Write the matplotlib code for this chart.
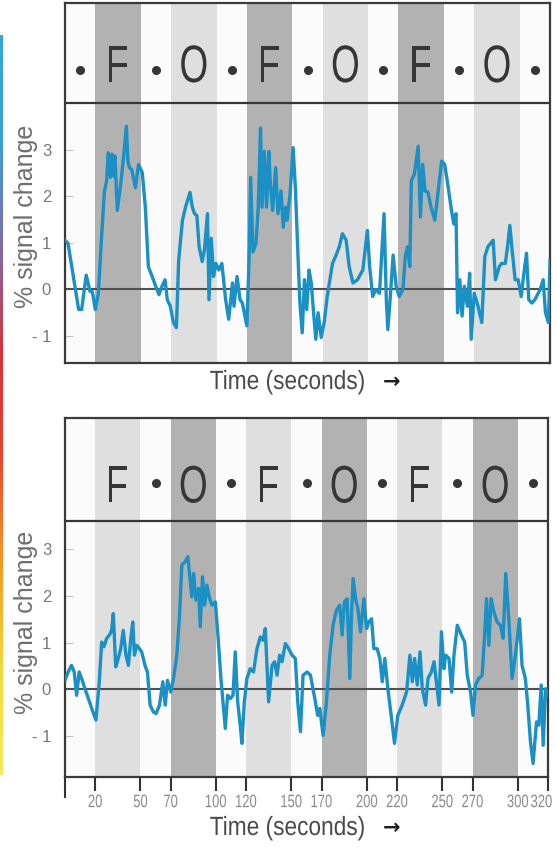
import numpy as np
import matplotlib.pyplot as plt
import matplotlib.transforms as mtransforms
from matplotlib.colors import LinearSegmentedColormap
from matplotlib.textpath import TextPath
from matplotlib.patches import PathPatch
from matplotlib.font_manager import FontProperties

plt.rcParams['font.family'] = ['Liberation Sans', 'DejaVu Sans']

# stimulus blocks (seconds)
block_starts = [20, 70, 120, 170, 220, 270]
block_len = 30
rest_centers = [10, 60, 110, 160, 210, 260, 310]
top_labels = ['F', 'O', 'F', 'O', 'F', 'O']
bot_labels = ['F', 'O', 'F', 'O', 'F', 'O']
xtick_vals = [20, 50, 70, 100, 120, 150, 170, 200, 220, 250, 270, 300, 320]
ytick_vals = [-1, 0, 1, 2, 3]
ytick_labels = ['- 1', '0', '1', '2', '3']

# upper run: F blocks dark
top_time = [0, 2, 9, 11, 14, 16.5, 18, 20, 22, 24,
            26, 27.5, 28.5, 30, 31, 32, 33, 34.5, 36.5, 38.5,
            40.5, 41.5, 42.5, 44, 46.5, 48.5, 51, 53, 55, 57.5,
            59.5, 62, 64, 66, 67.5, 69.5, 71.5, 73.5, 75, 77.5,
            79.5, 82.5, 84, 85.5, 87, 88.5, 90.5, 92, 94, 95,
            96.5, 98, 99.5, 101.5, 103.5, 106, 108, 110.5, 111.5, 113.5,
            115.5, 117, 120, 121.5, 122.5, 124, 126, 127.5, 129, 130,
            131.5, 133, 134.5, 135.5, 137, 139, 140.5, 142.5, 144, 145.5,
            146.5, 148.5, 150.5, 152, 154, 155, 156.5, 158, 159.5, 161,
            162.5, 164, 165.5, 167, 169, 171, 173, 176.5, 178.5, 181,
            183, 185.5, 187.5, 190, 193, 196.5, 199.5, 201, 203, 205,
            207.5, 210.5, 212, 213, 214.5, 216.5, 218.5, 220.5, 223, 224.5,
            226, 227.5, 228.5, 230.5, 233, 234.5, 236, 237.5, 239.5, 241.5,
            244, 246, 248.5, 250.5, 252.5, 255, 256.5, 258, 259, 260.5,
            262, 263.5, 265.5, 267, 268, 270, 272.5, 275, 277, 279,
            282.5, 284, 286.5, 288, 290.5, 292, 293.5, 295, 297, 299,
            301, 302.5, 304.5, 306, 308, 310, 313.5, 315.5, 317, 319,
            320]
top_signal = [1.05, 0.98, -0.44, -0.44, 0.3, -0.05, -0.05, -0.44, -0.1, 1.05,
              2.1, 2.33, 2.93, 2.4, 2.9, 2.43, 2.86, 1.69, 2.18, 2.79,
              3.5, 2.75, 2.61, 2.57, 2.18, 2.68, 2.5, 1.76, 0.48, 0.27,
              0.09, -0.12, 0.06, 0.2, -0.23, -0.37, -0.72, -0.83, 0.62, 1.48,
              1.76, 2.08, 1.76, 1.62, 1.58, 0.91, 0.59, 0.84, 1.62, -0.23,
              1.09, 0.27, 0.55, 0.41, 0.55, -0.23, -0.65, 0.13, -0.37, 0.27,
              -0.23, -0.3, -0.79, 0.7, 2.4, 0.8, 0.98, 1.76, 3.46, 1.76,
              2.96, 1.76, 2.96, 2.26, 1.69, 2.61, 1.62, 2.11, 1.33, 1.76,
              1.48, 2.04, 3.04, 2.18, 0.48, -0.3, -0.94, 0.2, -0.44, 0.41,
              0.13, -0.51, -1.08, -0.51, -1.04, -0.72, -0.16, 0.55, 0.7, 0.91,
              1.19, 1.05, 0.48, 0.13, 0.2, 0.41, 1.26, 0.48, -0.16, -0.01,
              -0.09, 1.62, -0.23, -0.87, -0.23, 0.73, 0.06, -0.16, -0.01, 0.7,
              0.91, 0.48, 2.33, 2.47, 3.07, 1.55, 2.68, 2.11, 2.08, 1.76,
              1.48, 2.04, 2.75, 2.68, 2.26, 1.69, 1.4, 1.62, -0.51, 0.2,
              -0.58, 0.06, -0.37, 0.34, -1.08, -0.09, -0.37, -0.72, 0.7, 0.91,
              1.05, 0.2, 0.48, 0.55, 0.55, 0.91, 1.37, 0.84, 0.2, 0.2,
              -0.16, 0.27, 0.77, -0.23, -0.3, -0.23, -0.01, 0.2, -0.51, -0.72,
              0.62]

# lower run: O blocks dark
bot_time = [0, 2.1, 4.3, 6.1, 7.7, 9.4, 11, 13.2, 15.5, 17.7,
            20.5, 22.7, 24.3, 25.8, 27.6, 29.4, 30.9, 32, 33.6, 35.3,
            36.9, 38.6, 40.4, 42, 43.6, 44.9, 46, 47.5, 49.3, 50.8,
            53, 54.6, 56.4, 58.6, 60.4, 62.6, 64.8, 66.4, 67.9, 70.1,
            71.9, 74.1, 75.9, 77.4, 79.6, 81.4, 83, 84, 85.2, 86.7,
            88.5, 89.6, 91.1, 92.5, 94, 95.8, 97.4, 99.6, 101.3, 103.3,
            106.2, 107.7, 109.5, 111.3, 112.8, 114.4, 116.1, 117.2, 118.8, 120.5,
            122.7, 124.9, 127.2, 129.4, 131.2, 132.7, 134.9, 137.2, 138.9, 140.5,
            142.2, 143.8, 146, 148.2, 150.4, 152.6, 154.2, 156, 157.7, 160.4,
            162.6, 164.3, 165.9, 167.4, 168.8, 171, 173.2, 175.4, 177.6, 179.8,
            182, 183.6, 185.1, 186.9, 188.7, 189.8, 190.9, 192.5, 194, 195.8,
            198, 199.8, 201.3, 203.1, 204.6, 206.8, 208.6, 210.2, 211.9, 213.9,
            216.1, 218.3, 220.5, 223.4, 226.3, 228.5, 230.1, 231.6, 233.4, 235.2,
            236.7, 238.9, 240.5, 242.7, 244.5, 246.3, 247.8, 249.4, 251.1, 252.2,
            254.4, 256.2, 257.7, 259.9, 262.6, 264.8, 266.5, 268.7, 270.3, 272,
            274.2, 276.4, 278, 279.3, 280.8, 282.3, 284.1, 286.3, 288.5, 290.3,
            292, 294, 296.2, 298.4, 301.1, 302.8, 305, 306.6, 308.4, 310.1,
            312.4, 313.9, 315.5, 316.8, 318.4, 320]
bot_signal = [0.19, 0.37, 0.51, 0.37, -0.13, 0.37, 0.23, 0.01, -0.2, -0.41,
              -0.66, 0.16, 1.01, 0.91, 1.09, 1.16, 1.26, 1.62, 0.48, 0.66,
              0.87, 1.26, 0.73, 0.51, 1.09, 1.44, 0.73, 0.94, 0.87, 0.8,
              0.51, 0.37, -0.34, -0.49, -0.52, -0.34, 0.16, -0.34, 0.19, -0.06,
              0.23, 0.73, 1.59, 2.66, 2.73, 2.84, 2.3, 1.98, 2.48, 1.91,
              2.16, 1.34, 2.41, 1.8, 2.23, 1.94, 1.8, 1.87, 1.16, 0.23,
              -0.84, -0.13, -0.2, -0.13, 0.8, -0.27, -0.77, -1.16, -0.27, 0.23,
              0.44, 0.37, 0.87, 1.12, 1.05, 1.3, -0.27, 0.51, 0.59, 0.3,
              0.73, 0.59, 0.98, 0.87, 0.73, 0.66, -0.27, -0.91, 0.3, 0.37,
              0.3, 0.01, -0.27, -0.56, -0.41, -0.99, -0.27, 0.73, 1.37, 1.69,
              1.8, 1.16, 1.87, 1.94, 0.23, 1.59, 2.37, 1.94, 1.73, 1.23,
              1.94, 1.3, 1.44, 1.51, 0.87, 0.87, 0.66, 0.16, 0.66, 0.01,
              -0.56, -1.16, -0.56, -0.34, -0.06, 0.73, 0.16, 0.66, 0.09, 0.8,
              0.01, -0.34, 0.23, 0.37, 0.59, 0.09, -0.34, 1.23, 0.44, 0.73,
              0.66, -0.06, 0.73, 1.37, 1.16, 1.01, 0.3, -0.06, -0.56, 0.09,
              0.23, 0.3, 1.16, 1.94, 0.94, 1.94, 1.66, 1.44, 1.37, 1.09,
              2.48, 1.51, 0.23, 0.73, 1.51, 0.51, 0.23, -0.34, -1.13, -1.59,
              -0.7, -0.77, 0.09, -1.2, 0.01, -0.13]

DARK = '#b2b2b2'
LIGHT = '#dfdfdf'
BLUE = '#1a90c4'
INK = '#363636'

fig = plt.figure(figsize=(5.57, 8.5), dpi=100)


# text squeezed sideways (the original uses a condensed face)
def narrow_text(ax, x, y, s, size, squeeze, color, trans=None, align='center'):
    tp = TextPath((0, 0), s, prop=FontProperties(family='Liberation Sans', size=size))
    bb = tp.get_extents()
    x0 = {'center': bb.x0 + bb.width / 2, 'right': bb.x1, 'left': bb.x0}[align]
    k = fig.dpi / 72
    tr = (mtransforms.Affine2D().translate(-x0, 0).scale(squeeze * k, k)
          + mtransforms.ScaledTranslation(x, y, trans if trans is not None else ax.transData))
    patch = PathPatch(tp, transform=tr, facecolor=color, edgecolor='none', zorder=3)
    patch.set_clip_on(False)
    if ax is None:
        fig.add_artist(patch)
    else:
        ax.add_artist(patch)


def panel(rect, ylim, split, t, v, labels, dark_label, dots, letter_y, dot_y):
    ax = fig.add_axes(rect)
    ax.set_xlim(0, 320)
    ax.set_ylim(*ylim)
    ax.set_facecolor('#fbfbfb')
    for s, lab in zip(block_starts, labels):
        ax.axvspan(s, s + block_len, color=DARK if lab == dark_label else LIGHT,
                   lw=0, zorder=0)
        narrow_text(ax, s + block_len / 2, letter_y, lab, 38, 0.7, INK)
    ax.plot(dots, [dot_y] * len(dots), 'o', ms=5.5, color=INK, zorder=3)
    ax.axhline(split, color=INK, lw=1.6, zorder=2)
    ax.axhline(0, color='#505050', lw=1.5, zorder=2)
    ax.plot(t, v, color=BLUE, lw=2.4, zorder=4)
    for sp in ax.spines.values():
        sp.set_color('#3a3a3a')
        sp.set_linewidth(1.6)
    ax.set_yticks(ytick_vals, ytick_labels)
    ax.tick_params(axis='y', direction='in', length=6, width=0.8,
                   color='#c4c4c4', labelcolor='#777777', labelsize=12, pad=10)
    return ax


ax1 = panel([65 / 557, 1 - 363 / 850, 485 / 557, 360 / 850], (-1.59, 6.15), 4.0,
            top_time, top_signal, top_labels, 'F', rest_centers, 4.45, 4.71)
ax1.set_xticks([])

ax2 = panel([65 / 557, 1 - 777 / 850, 483 / 557, 359 / 850], (-1.88, 5.81), 3.6,
            bot_time, bot_signal, bot_labels, 'O', rest_centers[1:], 4.0, 4.41)
ax2.set_xticks(xtick_vals, [''] * len(xtick_vals))
ax2.set_xticks([0], [''], minor=True)
ax2.tick_params(axis='x', which='major', direction='out', length=10, width=1.5,
                color='#333333')
ax2.tick_params(axis='x', which='minor', direction='out', length=15, width=1.5,
                color='#333333')
for i, xv in enumerate(xtick_vals):
    last = i == len(xtick_vals) - 1
    narrow_text(ax2, xv + (2.5 if last else 0), -0.084, str(xv), 13, 0.72, '#8a8a8a',
                trans=ax2.get_xaxis_transform(), align='right' if last else 'center')

# axis titles
for yc in [1 - 216 / 850, 1 - 622 / 850]:
    fig.text(0.047, yc, '% signal change', rotation=90, ha='center', va='center',
             fontsize=18, color='#6e6e6e')
for yc in [1 - 389 / 850, 1 - 835 / 850]:
    narrow_text(None, 287 / 557, yc, 'Time (seconds)', 19, 0.86, '#4a4a4a',
                trans=fig.transFigure)
    fig.text(392 / 557, yc + 7 / 850, '\u2192', ha='center', va='center',
             fontsize=15, fontweight='bold', family='DejaVu Sans', color='#1e1e1e')

# thin colour strip at the left edge
strip = LinearSegmentedColormap.from_list(
    'strip', ['#35a6dc', '#3d9fd8', '#7f6aa8', '#d8323c', '#e8452e',
              '#f39a24', '#f4d83a', '#f5e860'])
cax = fig.add_axes([0, 1 - 775 / 850, 3 / 557, 740 / 850])
cax.imshow(np.linspace(0, 1, 256)[:, None], aspect='auto', cmap=strip)
cax.axis('off')

fig.savefig('out.png', dpi=100)
